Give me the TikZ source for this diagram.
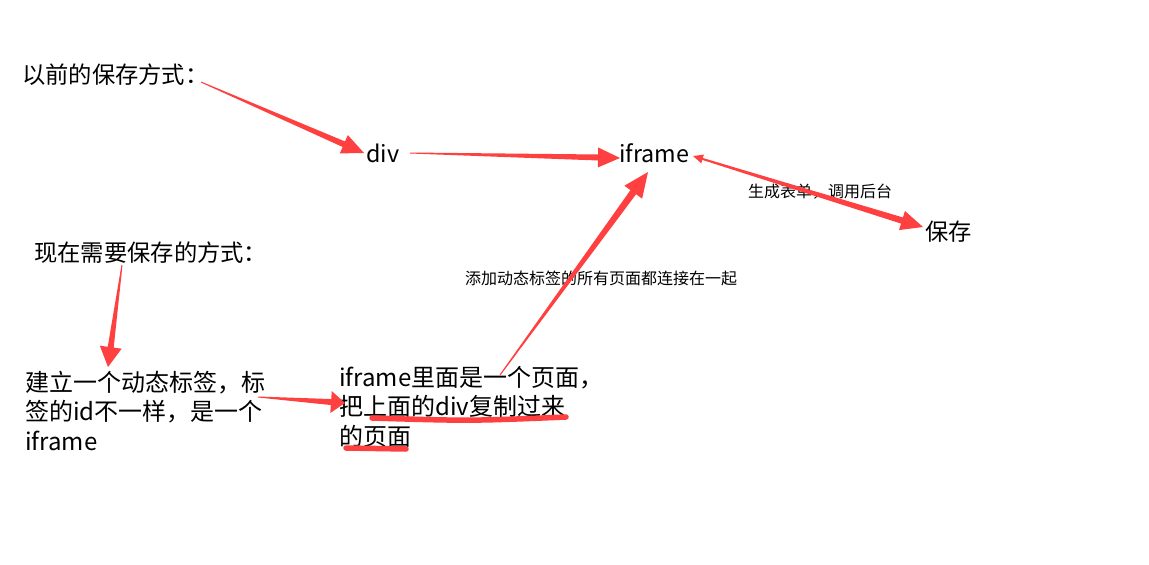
\documentclass[tikz,border=0pt]{standalone}
\usepackage{fontspec}
\setmainfont{Noto Sans CJK SC}
\usetikzlibrary{calc}
\definecolor{arrowred}{RGB}{255,64,64}
% tapered arrow: #1 tail, #2 tip, #3 tail half-width, #4 shaft half-width at head, #5 head length, #6 head half-width
\newcommand\taparrow[6]{%
  \coordinate (tmpC) at ($(#2)!#5!(#1)$);
  \fill[arrowred] ($(#1)!#3!90:(#2)$) -- ($(tmpC)!#4!90:(#2)$) -- ($(tmpC)!#6!90:(#2)$) -- (#2)
    -- ($(tmpC)!#6!-90:(#2)$) -- ($(tmpC)!#4!-90:(#2)$) -- ($(#1)!#3!-90:(#2)$) -- cycle;}
\tikzset{
  titletext/.style={inner sep=0pt, anchor=base west, font=\fontsize{23.3pt}{27pt}\selectfont},
  bodytext/.style={inner sep=0pt, anchor=base west, align=left, font=\fontsize{24pt}{29.5pt}\selectfont},
  smalltext/.style={inner sep=0pt, anchor=base west, font=\fontsize{16pt}{19pt}\selectfont},
  underline/.style={draw=arrowred, line width=5.5pt, line cap=round}
}
\begin{document}
\begin{tikzpicture}[x=1pt,y=-1pt]
\fill[white] (0,0) rectangle (1149,565);
\useasboundingbox (0,0) rectangle (1149,565);

\node[titletext] (old) at (22,83) {以前的保存方式：};
\node[titletext] (div) at (366,162) {div};
\node[titletext] (ifr) at (619,162) {iframe};
\node[titletext] (save) at (925,240) {保存};
\node[smalltext] (gen) at (748,197) {生成表单，调用后台};
\node[titletext] (now) at (34,261) {现在需要保存的方式：};
\node[smalltext] (link) at (465,284) {添加动态标签的所有页面都连接在一起};
\node[bodytext] (dyn) at (25,450) {建立一个动态标签，标\\签的id不一样，是一个\\iframe};
\node[bodytext] (page) at (339,445) {iframe里面是一个页面，\\把上面的div复制过来\\的页面};

% arrow end points
\coordinate (a1s) at (201,82);  \coordinate (a1e) at (364,153);
\coordinate (a2s) at (410,153); \coordinate (a2e) at (620,158);
\coordinate (a3s) at (500,375); \coordinate (a3e) at (648,172);
\coordinate (a5s) at (122,265); \coordinate (a5e) at (108,367);
\coordinate (a6s) at (258,397); \coordinate (a6e) at (345,403);
\coordinate (a4s) at (693,156); \coordinate (a4e) at (923,227);

\taparrow{a1s}{a1e}{0.5pt}{3pt}{22pt}{10pt}
\taparrow{a2s}{a2e}{0.5pt}{3pt}{22pt}{10pt}
\taparrow{a3s}{a3e}{0.5pt}{3.5pt}{25pt}{11pt}
\taparrow{a5s}{a5e}{0.5pt}{3pt}{20pt}{11pt}
\taparrow{a6s}{a6e}{0.5pt}{3pt}{14pt}{11pt}

% double-headed tapered arrow iframe <-> 保存
\coordinate (a4b) at ($(a4s)!10pt!(a4e)$);
\coordinate (a4c) at ($(a4e)!22pt!(a4s)$);
\fill[arrowred] (a4s) -- ($(a4b)!4.5pt!90:(a4e)$) -- ($(a4b)!1pt!90:(a4e)$) -- ($(a4c)!3.2pt!-90:(a4s)$)
  -- ($(a4c)!10pt!-90:(a4s)$) -- (a4e) -- ($(a4c)!10pt!90:(a4s)$) -- ($(a4c)!3.2pt!90:(a4s)$)
  -- ($(a4b)!1pt!-90:(a4e)$) -- ($(a4b)!4.5pt!-90:(a4e)$) -- cycle;

% underlines
\coordinate (u1s) at (372,418); \coordinate (u1e) at (566,417);
\coordinate (u2s) at (346,448); \coordinate (u2e) at (406,449);
\draw[underline] (u1s) .. controls (470,421) .. (u1e);
\draw[underline] (u2s) -- (u2e);
\end{tikzpicture}
\end{document}
